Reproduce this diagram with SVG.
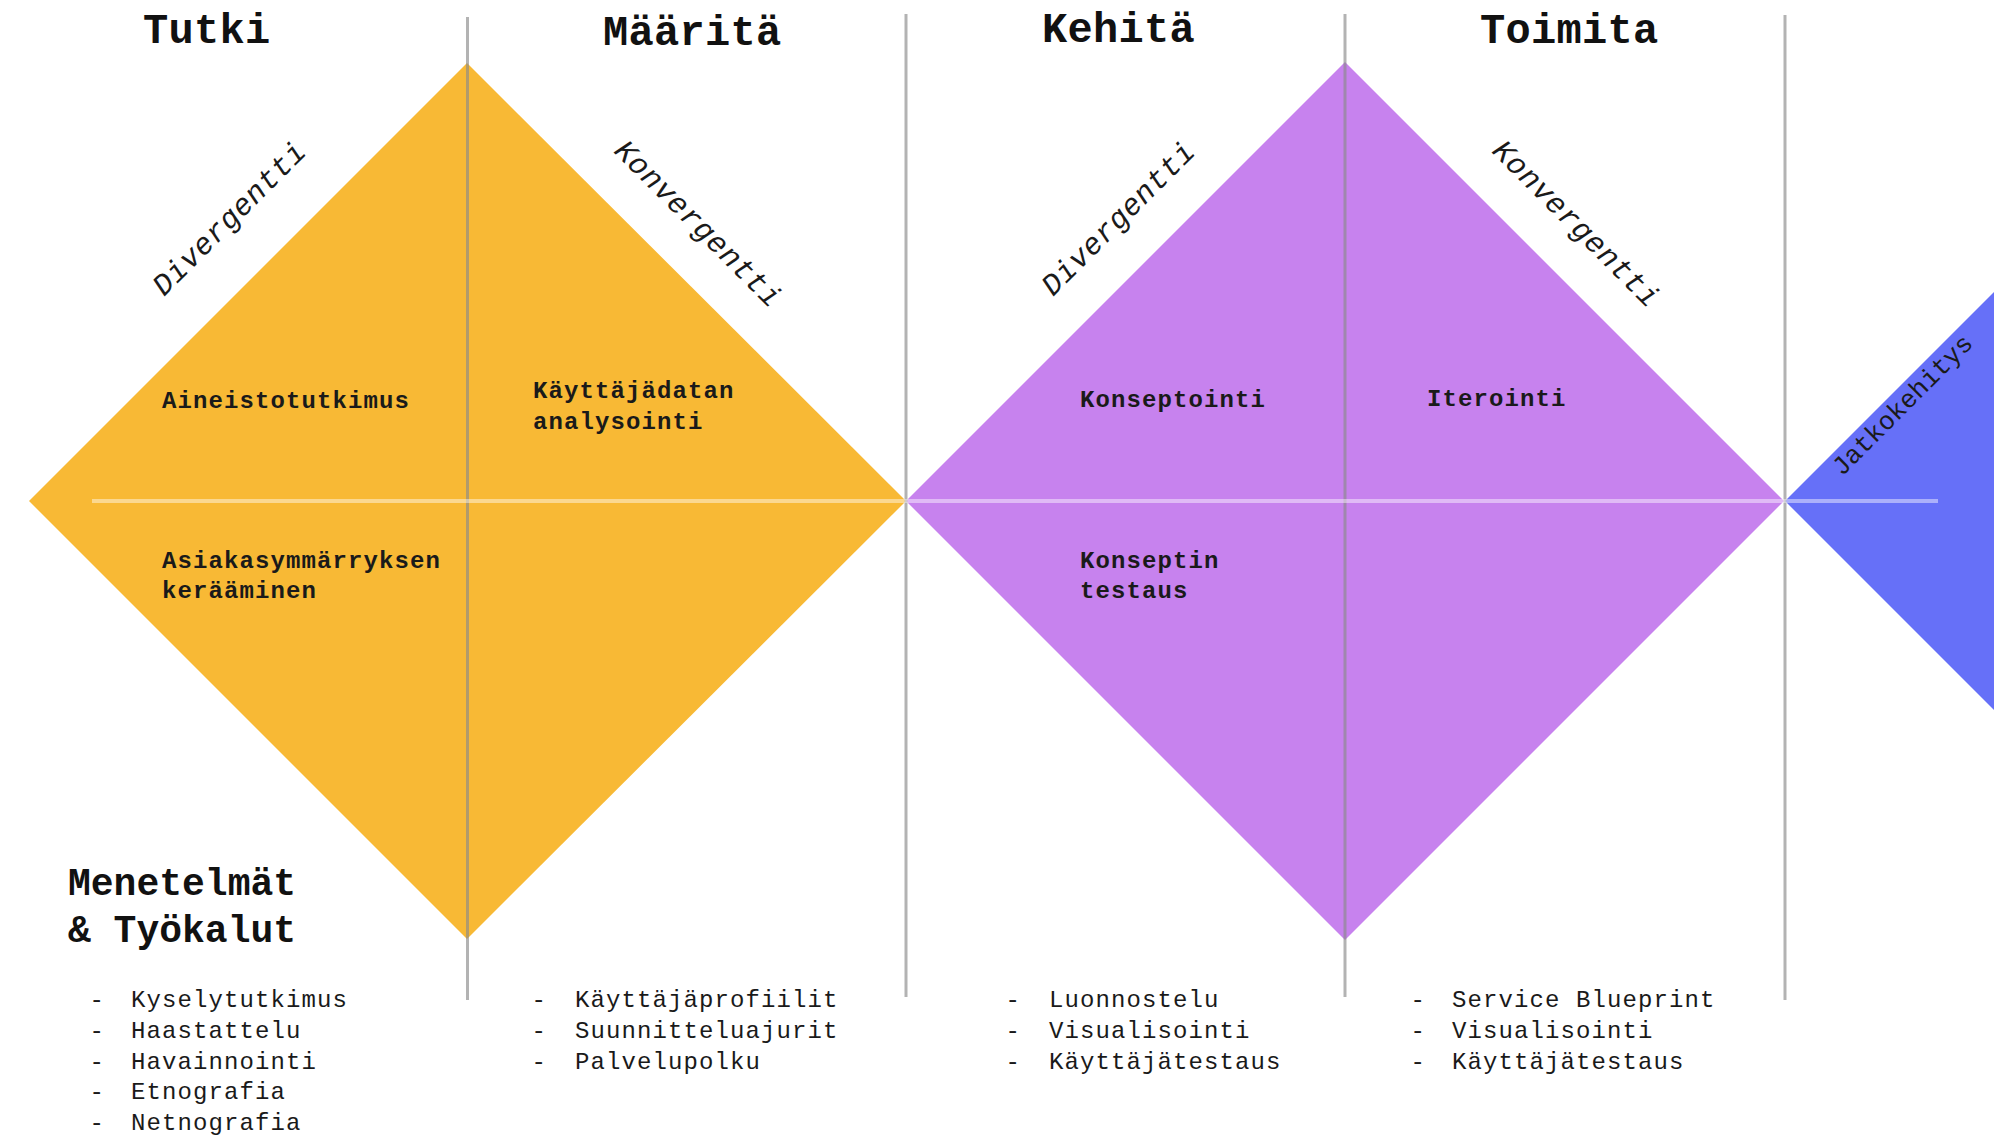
<svg xmlns="http://www.w3.org/2000/svg" width="1994" height="1139" viewBox="0 0 1994 1139">
<style>
  .head { font-family: "Liberation Mono", "DejaVu Sans Mono", monospace; font-weight: bold; font-size: 42px; letter-spacing: 0.3px; fill: #111; }
  .sub { font-family: "Liberation Mono", "DejaVu Sans Mono", monospace; font-weight: bold; font-size: 38px; letter-spacing: 0px; fill: #111; }
  .lbl { font-family: "Liberation Mono", "DejaVu Sans Mono", monospace; font-weight: bold; font-size: 24px; letter-spacing: 1.1px; fill: #1a1a1a; }
  .item { font-family: "Liberation Mono", "DejaVu Sans Mono", monospace; font-size: 24px; letter-spacing: 1.1px; fill: #1a1a1a; }
  .diag { font-family: "Liberation Mono", "DejaVu Sans Mono", monospace; font-style: italic; font-size: 30px; letter-spacing: 0.5px; fill: #1a1a1a; }
  .jk { font-family: "Liberation Mono", "DejaVu Sans Mono", monospace; font-size: 26px; fill: #1a1a1a; }
  .vline { stroke: #8a8a8a; stroke-opacity: 0.65; stroke-width: 3; }
  .hline { stroke: #ffffff; stroke-opacity: 0.45; stroke-width: 4; }
</style>
<rect x="0" y="0" width="1994" height="1139" fill="#ffffff"/>

<g id="diamond-1">
  <polygon points="29,501 467,63 906,501 467,939" fill="#F8B935"/>
</g>
<g id="diamond-2">
  <polygon points="906,501 1345,62 1784,501 1345,940" fill="#C782EE"/>
</g>
<g id="jatkokehitys-shape">
  <polygon points="1785,501 2000,286 2000,716" fill="#6670F8"/>
</g>

<g id="connectors">
  <line class="vline" x1="467.5" y1="17" x2="467.5" y2="1000"/>
  <line class="vline" x1="906" y1="14" x2="906" y2="997"/>
  <line class="vline" x1="1345" y1="14" x2="1345" y2="997"/>
  <line class="vline" x1="1785" y1="15" x2="1785" y2="1000"/>
  <line class="hline" x1="92" y1="501" x2="1938" y2="501"/>
</g>

<g id="phase-tutki">
  <text class="head" x="143" y="43">Tutki</text>
  <text class="diag" transform="translate(164,297) rotate(-45)">Divergentti</text>
  <text class="lbl" x="162" y="408">Aineistotutkimus</text>
  <text class="lbl" x="162" y="568">Asiakasymmärryksen</text>
  <text class="lbl" x="162" y="598">kerääminen</text>
</g>

<g id="phase-maarita">
  <text class="head" x="603" y="45">Määritä</text>
  <text class="diag" transform="translate(613,152) rotate(45)">Konvergentti</text>
  <text class="lbl" x="533" y="398">Käyttäjädatan</text>
  <text class="lbl" x="533" y="429">analysointi</text>
</g>

<g id="phase-kehita">
  <text class="head" x="1042" y="42">Kehitä</text>
  <text class="diag" transform="translate(1053,297) rotate(-45)">Divergentti</text>
  <text class="lbl" x="1080" y="407">Konseptointi</text>
  <text class="lbl" x="1080" y="568">Konseptin</text>
  <text class="lbl" x="1080" y="598">testaus</text>
</g>

<g id="phase-toimita">
  <text class="head" x="1480" y="43">Toimita</text>
  <text class="diag" transform="translate(1491,152) rotate(45)">Konvergentti</text>
  <text class="lbl" x="1427" y="406">Iterointi</text>
</g>

<g id="phase-jatkokehitys">
  <text class="jk" transform="translate(1842,477) rotate(-45)">Jatkokehitys</text>
</g>

<g id="methods-title">
  <text class="sub" x="68" y="895">Menetelmät</text>
  <text class="sub" x="68" y="942">&amp; Työkalut</text>
</g>

<g id="methods-tutki">
  <text class="item" x="89.5" y="1007">-</text><text class="item" x="131" y="1007">Kyselytutkimus</text>
  <text class="item" x="89.5" y="1038">-</text><text class="item" x="131" y="1038">Haastattelu</text>
  <text class="item" x="89.5" y="1069">-</text><text class="item" x="131" y="1069">Havainnointi</text>
  <text class="item" x="89.5" y="1099">-</text><text class="item" x="131" y="1099">Etnografia</text>
  <text class="item" x="89.5" y="1130">-</text><text class="item" x="131" y="1130">Netnografia</text>
</g>

<g id="methods-maarita">
  <text class="item" x="531.5" y="1007">-</text><text class="item" x="575" y="1007">Käyttäjäprofiilit</text>
  <text class="item" x="531.5" y="1038">-</text><text class="item" x="575" y="1038">Suunnitteluajurit</text>
  <text class="item" x="531.5" y="1069">-</text><text class="item" x="575" y="1069">Palvelupolku</text>
</g>

<g id="methods-kehita">
  <text class="item" x="1005.5" y="1007">-</text><text class="item" x="1049" y="1007">Luonnostelu</text>
  <text class="item" x="1005.5" y="1038">-</text><text class="item" x="1049" y="1038">Visualisointi</text>
  <text class="item" x="1005.5" y="1069">-</text><text class="item" x="1049" y="1069">Käyttäjätestaus</text>
</g>

<g id="methods-toimita">
  <text class="item" x="1410.5" y="1007">-</text><text class="item" x="1452" y="1007">Service Blueprint</text>
  <text class="item" x="1410.5" y="1038">-</text><text class="item" x="1452" y="1038">Visualisointi</text>
  <text class="item" x="1410.5" y="1069">-</text><text class="item" x="1452" y="1069">Käyttäjätestaus</text>
</g>
</svg>
